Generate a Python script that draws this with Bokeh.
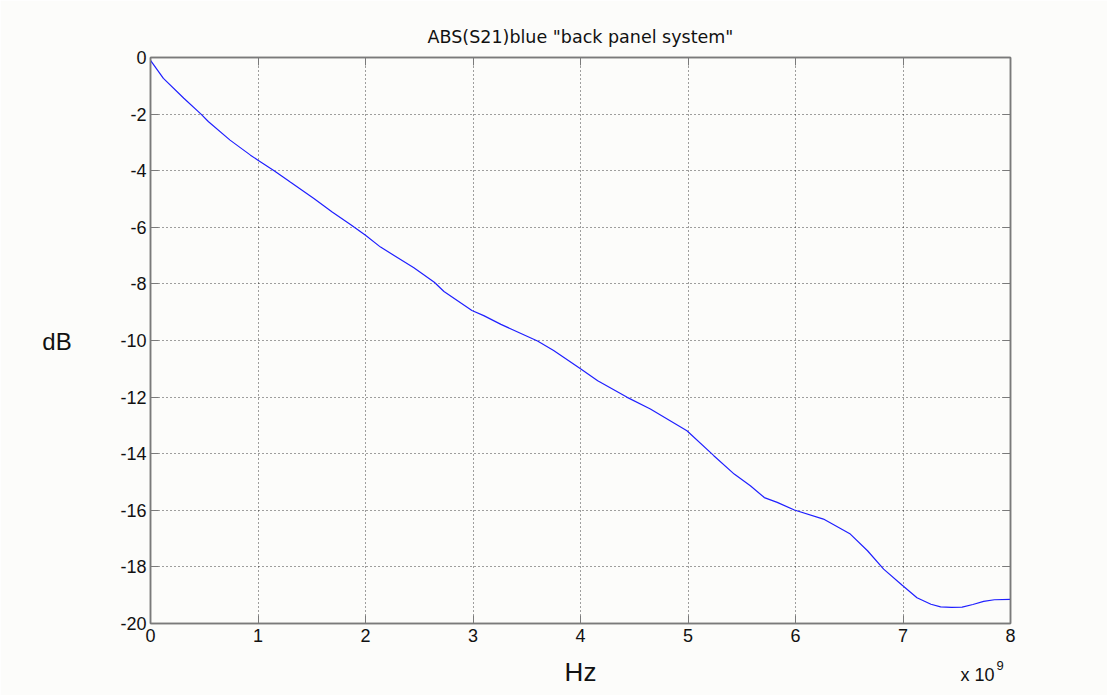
from bokeh.plotting import figure
from bokeh.models import Range1d, FixedTicker, LinearAxis, Label
from bokeh.embed import file_html
from bokeh.resources import INLINE

# Frequency in units of 1e9 Hz, magnitude in dB
freq_ghz = [0.0, 0.12, 0.31, 0.47, 0.54, 0.74, 0.93, 1.0, 1.15, 1.30, 1.52, 1.69, 1.86, 2.0,
            2.14, 2.45, 2.64, 2.73, 2.99, 3.10, 3.26, 3.60, 3.75, 4.0, 4.16, 4.43, 4.65,
            4.99, 5.24, 5.43, 5.58, 5.71, 5.83, 5.99, 6.26, 6.51, 6.67, 6.82, 6.99, 7.13,
            7.26, 7.35, 7.45, 7.55, 7.65, 7.75, 7.85, 8.0]
s21_db = [-0.1, -0.74, -1.44, -2.0, -2.27, -2.92, -3.45, -3.63, -4.0, -4.4, -4.98, -5.46, -5.9, -6.28,
          -6.70, -7.43, -7.94, -8.27, -8.94, -9.12, -9.43, -10.02, -10.35, -11.0, -11.42, -12.0, -12.42,
          -13.19, -14.07, -14.72, -15.13, -15.55, -15.72, -15.99, -16.31, -16.84, -17.43, -18.08, -18.64, -19.09,
          -19.32, -19.41, -19.43, -19.42, -19.33, -19.22, -19.16, -19.15]

x_ticks = [0, 1, 2, 3, 4, 5, 6, 7, 8]
y_ticks = [-20, -18, -16, -14, -12, -10, -8, -6, -4, -2, 0]

title_text = 'ABS(S21)blue "back panel system"'
x_label = "Hz"
y_label = "dB"
x_scale_text = "x 10"
x_scale_exp = "9"

FONT = "Liberation Sans"
BG = "#fcfcfa"
FRAME = "#7a7a7a"
TXT = "#111111"

p = figure(width=1107, height=695, output_backend="svg", toolbar_location=None,
           x_range=Range1d(0, 8), y_range=Range1d(-20, 0),
           min_border_left=150, min_border_right=97, min_border_top=57, min_border_bottom=72,
           background_fill_color=BG, border_fill_color=BG)
p.outline_line_color = FRAME
p.outline_line_width = 1.5

def style_axis(ax, show_labels=True):
    ax.axis_line_color = FRAME
    ax.axis_line_width = 1.5
    ax.major_tick_in = 8
    ax.major_tick_out = 0
    ax.major_tick_line_color = FRAME
    ax.minor_tick_line_color = None
    ax.major_label_text_font = FONT
    ax.major_label_text_font_size = "18px"
    ax.major_label_text_color = TXT
    ax.major_label_standoff = 5
    if not show_labels:
        ax.major_label_text_font_size = "0px"
        ax.major_label_text_alpha = 0
        ax.major_label_standoff = 0

p.xaxis.ticker = FixedTicker(ticks=x_ticks)
p.yaxis.ticker = FixedTicker(ticks=y_ticks)
p.xaxis.major_label_overrides = {t: str(t) for t in x_ticks}
p.yaxis.major_label_overrides = {t: str(t) for t in y_ticks}
for ax in p.xaxis + p.yaxis:
    style_axis(ax)
p.yaxis.major_label_standoff = 4

p.xaxis.axis_label = x_label
p.xaxis.axis_label_text_font = FONT
p.xaxis.axis_label_text_font_size = "26px"
p.xaxis.axis_label_text_font_style = "normal"
p.xaxis.axis_label_text_color = TXT
p.xaxis.axis_label_standoff = 12

top_ax = LinearAxis(ticker=FixedTicker(ticks=x_ticks))
right_ax = LinearAxis(ticker=FixedTicker(ticks=y_ticks))
style_axis(top_ax, False)
style_axis(right_ax, False)
p.add_layout(top_ax, "above")
p.add_layout(right_ax, "right")

p.xgrid.ticker = FixedTicker(ticks=x_ticks)
p.ygrid.ticker = FixedTicker(ticks=y_ticks)
for g in p.xgrid + p.ygrid:
    g.grid_line_color = "#000000"
    g.grid_line_alpha = 0.75
    g.grid_line_dash = "1 3"
    g.grid_line_width = 1

p.line(freq_ghz, s21_db, line_color="#1f1fff", line_width=1.2)

# Texts outside the frame live in side panels so that they are not clipped
p.add_layout(Label(x=4, y=0.72, text=title_text, text_align="center", text_baseline="alphabetic",
                   text_font="DejaVu Sans", text_font_size="17.5px", text_color=TXT), "above")
p.add_layout(Label(x=-0.87, y=-10.05, text=y_label, text_align="center", text_baseline="alphabetic",
                   text_font=FONT, text_font_size="24px", text_color=TXT), "left")
p.add_layout(Label(x=7.535, y=-21.82, text=x_scale_text, text_align="left", text_baseline="alphabetic",
                   text_font=FONT, text_font_size="18px", text_color=TXT), "right")
p.add_layout(Label(x=7.87, y=-21.5, text=x_scale_exp, text_align="left", text_baseline="alphabetic",
                   text_font=FONT, text_font_size="13px", text_color=TXT), "right")

open("out.html", "w").write(file_html(p, INLINE))
